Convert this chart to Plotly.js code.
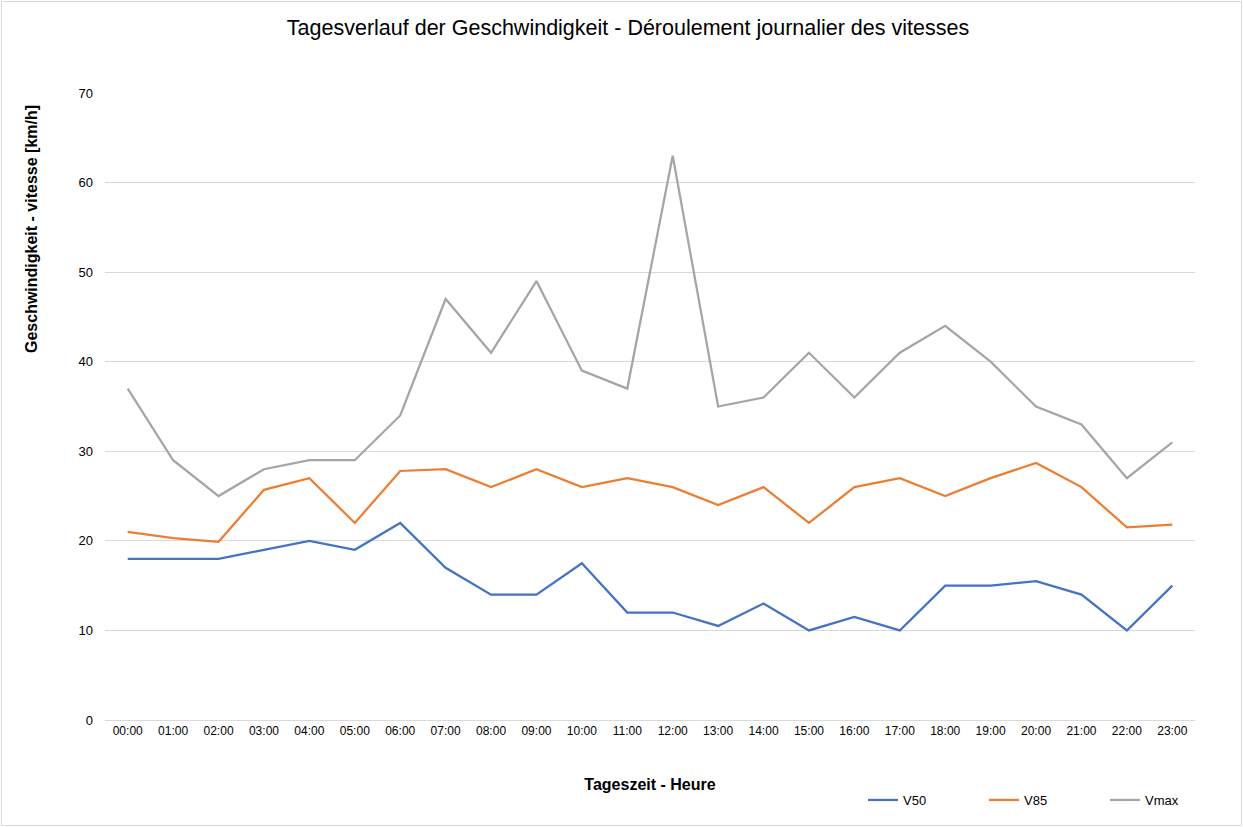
<!DOCTYPE html>
<html>
<head>
<meta charset="utf-8">
<script src="https://cdn.plot.ly/plotly-3.0.1.min.js"></script>
<style>
html,body{margin:0;padding:0;background:#fff;}
#chart{width:1243px;height:827px;}
</style>
</head>
<body>
<div id="chart"></div>
<script>
const hours = ["00:00","01:00","02:00","03:00","04:00","05:00","06:00","07:00","08:00","09:00","10:00","11:00","12:00","13:00","14:00","15:00","16:00","17:00","18:00","19:00","20:00","21:00","22:00","23:00"];
const v50 = [18,18,18,19,20,19,22,17,14,14,17.5,12,12,10.5,13,10,11.5,10,15,15,15.5,14,10,15];
const v85 = [21,20.3,19.9,25.7,27,22,27.8,28,26,28,26,27,26,24,26,22,26,27,25,27,28.7,26,21.5,21.8];
const vmax = [37,29,25,28,29,29,34,47,41,49,39,37,63,35,36,41,36,41,44,40,35,33,27,31];
const seriesNames = ["V50","V85","Vmax"];
const colors = ["#4472C4","#ED7D31","#A5A5A5"];

const data = [v50, v85, vmax].map((ys, i) => ({
  x: hours, y: ys, type: "scatter", mode: "lines", name: seriesNames[i],
  line: {color: colors[i], width: 2.25}
}));

const W = 1243, H = 827, L = 105, R = 48, T = 93, B = 107;
const PW = W - L - R, PH = H - T - B;

const layout = {
  width: W, height: H,
  paper_bgcolor: "#fff", plot_bgcolor: "#fff",
  font: {family: "Liberation Sans, Arial, sans-serif", color: "#404040"},
  margin: {l: L, r: R, t: T, b: B, autoexpand: false},
  title: {text: "Tagesverlauf der Geschwindigkeit - Déroulement journalier des vitesses",
          font: {size: 21.5, color: "#000"}, x: 628 / W, xanchor: "center", y: 1 - 27 / H, yanchor: "middle"},
  xaxis: {
    type: "category", range: [-0.5, 23.5], showgrid: false,
    showline: true, linecolor: "#d9d9d9", linewidth: 1,
    ticks: "", tickfont: {size: 12, color: "#000"},
    title: {text: "<b>Tageszeit - Heure</b>", font: {size: 16, color: "#000"}, standoff: 41},
    zeroline: false, fixedrange: true
  },
  yaxis: {
    range: [0, 70], dtick: 10, showgrid: true, gridcolor: "#d9d9d9", gridwidth: 1,
    zeroline: false, showline: false, ticks: "", ticklen: 0, ticklabelstandoff: 11,
    tickfont: {size: 13, color: "#000"},
    fixedrange: true
  },
  annotations: [{
    text: "<b>Geschwindigkeit - vitesse [km/h]</b>", textangle: -90, showarrow: false,
    xref: "paper", yref: "paper", x: -(L - 32) / PW, y: (T + PH - 229) / PH,
    xanchor: "center", yanchor: "middle", font: {size: 16, color: "#000"}
  }],
  legend: {orientation: "h", x: (863 - L) / PW, xanchor: "left", y: -(800 - (T + PH)) / PH, yanchor: "middle",
           font: {size: 13, color: "#000"}, itemwidth: 30, traceorder: "normal",
           entrywidth: 76, bgcolor: "rgba(0,0,0,0)"},
  showlegend: true,
  shapes: [{type: "rect", xref: "paper", yref: "paper",
            x0: -(L - 1.5) / PW, x1: (PW + R - 1.5) / PW, y0: -(B - 1.5) / PH, y1: (PH + T - 1.5) / PH,
            line: {color: "#d9d9d9", width: 1}, fillcolor: "rgba(0,0,0,0)", layer: "below"}]
};

Plotly.newPlot("chart", data, layout, {displayModeBar: false, staticPlot: true});
</script>
</body>
</html>
